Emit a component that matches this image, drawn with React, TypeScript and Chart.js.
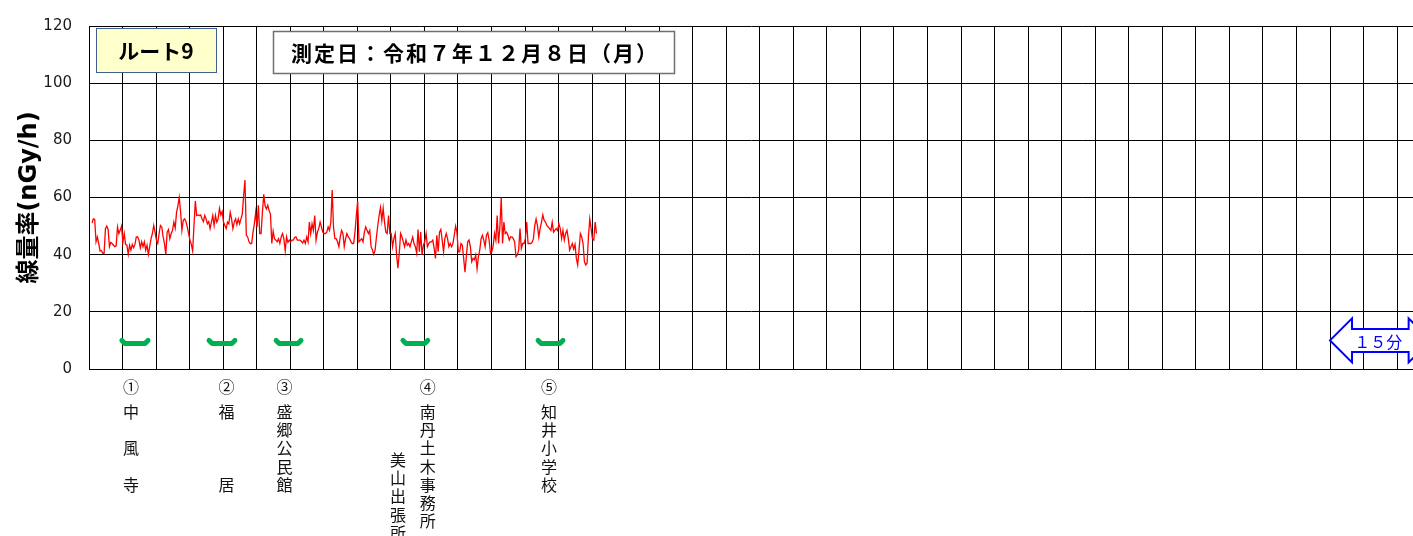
import React, { useEffect, useRef } from 'react';
import { Chart, registerables } from 'chart.js';

Chart.register(...registerables);

// ---- text ----
const ROUTE_LABEL = 'ルート9';
const DATE_LABEL = '測定日：令和７年１２月８日（月）';
const Y_TITLE = '線量率(nGy/h)';
const SCALE_ARROW_TEXT = '１５分';

// ---- axes ----
const Y_MIN = 0;
const Y_MAX = 120;
const Y_STEP = 20;
const X_GRID_STEP_MIN = 5; // one grid column = 5 minutes
const X_VISIBLE_MAX_MIN = 197.37;

// ---- measured dose rate (nGy/h), one sample every 0.2 min ----
const SAMPLE_START_MIN = 0.45;
const SAMPLE_INTERVAL_MIN = 0.2;
const DOSE_RATE = [
  51.1, 52.5, 52.3, 44.5, 46.2, 43.9, 41.3, 41.4, 40.5, 40.5, 49.1, 50.0, 48.8, 42.8, 44.3, 43.9, 43.3, 42.8, 43.1, 49.7,
  47.4, 48.5, 50.0, 44.3, 47.4, 43.6, 43.3, 40.1, 43.3, 41.6, 43.6, 42.4, 43.6, 46.2, 46.2, 45.1, 42.4, 44.5, 42.8, 44.5,
  41.6, 43.3, 40.1, 42.8, 45.6, 47.4, 50.2, 47.9, 45.1, 43.9, 47.4, 50.2, 49.7, 46.2, 43.9, 40.1, 47.9, 48.8, 45.6, 47.4,
  48.5, 51.4, 49.3, 54.8, 57.1, 60.0, 55.0, 48.5, 52.0, 52.5, 51.6, 49.7, 47.4, 45.1, 43.6,
  41.3, 50.2, 58.8, 53.7, 53.9, 53.7, 53.9, 52.5, 51.6, 53.7, 52.5, 50.8, 51.6, 49.1, 51.4, 53.7, 50.2, 53.7, 51.4, 52.5,
  56.2, 53.9, 55.1, 51.4, 50.2, 49.1, 51.4, 50.8, 54.8, 52.5, 49.1, 51.4, 52.5, 50.5, 52.5, 50.8, 52.5, 54.2, 60.6, 66.1,
  46.8, 46.2, 44.5, 43.9, 43.9, 47.9, 50.8, 54.8, 49.7, 57.3, 47.4, 47.4, 54.8, 61.1, 57.1, 56.0, 57.3, 55.4, 54.2, 43.9,
  48.2, 45.6, 45.1, 44.5, 45.6, 43.9, 46.2, 47.4, 45.6, 41.3, 46.2, 44.3, 45.1, 44.5, 45.1, 45.1,
  46.0, 46.2, 45.1, 45.1, 45.1, 44.7, 44.1, 45.1, 43.9, 46.2, 44.5, 51.4, 47.4, 50.8, 48.5, 53.7, 45.1, 47.9, 49.1, 51.4,
  49.7, 47.9, 47.4, 47.4, 47.9, 49.7, 48.5, 51.4, 62.6, 49.7, 45.6, 45.6, 44.5, 42.8, 46.2, 48.5, 47.4, 42.8, 45.6, 47.4,
  46.2, 45.6, 44.5, 43.9, 43.9, 47.9, 53.7, 58.8, 44.5, 45.1, 45.6, 44.5, 47.9, 49.7, 48.5, 47.4, 48.5, 42.8, 41.6, 40.1,
  41.6, 46.2, 50.2, 53.7, 56.5, 52.0, 56.2, 51.4, 47.9, 47.4, 53.7, 47.4, 47.4, 42.8, 45.6, 47.4,
  39.9, 35.3, 40.5, 47.4, 46.2, 44.5, 42.8, 45.1, 43.3, 43.9, 42.8, 44.5, 46.2, 43.9, 42.8, 40.5, 48.8, 41.0, 47.9, 39.9,
  43.3, 44.5, 47.4, 42.8, 43.9, 44.5, 44.5, 45.1, 42.2, 38.7, 46.8, 41.0, 47.9, 48.8, 45.1, 41.0, 45.6, 47.4, 45.6, 42.8,
  43.9, 42.8, 43.9, 46.8, 50.0, 47.9, 41.0, 41.0, 43.9, 43.3, 38.7, 33.9, 39.3, 44.5, 45.1, 42.8, 37.6, 38.7, 38.2, 39.9,
  35.1, 39.3, 41.6, 45.6, 46.8, 45.1, 42.8, 46.8, 47.7, 45.1, 40.5, 41.0, 43.1, 47.4, 45.1, 53.7, 43.9,
  49.7, 60.0, 43.9, 51.4, 47.4, 47.9, 46.8, 45.1, 46.2, 46.2, 45.6, 44.5, 39.3, 39.9, 41.6, 49.1, 42.2, 43.9, 43.9, 45.6,
  51.4, 43.9, 43.9, 43.9, 44.3, 45.6, 50.2, 52.5, 50.2, 46.2, 49.1, 51.4, 53.9, 52.0, 51.4, 50.2, 49.7, 49.1, 48.5, 51.4,
  47.9, 48.5, 49.1, 48.5, 50.8, 49.1, 45.6, 48.5, 45.1, 47.4, 48.5, 45.6, 41.6, 42.8, 43.9, 42.0, 43.6, 38.7, 36.4, 41.6,
  47.4, 46.2, 43.9, 37.6, 36.4, 37.0, 46.2, 52.5, 49.1, 45.6, 45.1, 51.4, 47.4,
];

// ---- stations (minutes from start) ----
const STATION_NUMBERS = ['①', '②', '③', '④', '⑤'];
const STATION_NAMES = ['中　風　寺', '福　　　居', '盛郷公民館', '南丹土木事務所', '知井小学校'];
const STATION_START_MIN = [4.9, 17.9, 27.9, 46.8, 66.95];
const STATION_END_MIN = [8.8, 21.75, 31.6, 50.5, 70.65];
const STATION_LABEL_MIN = [6.26, 20.5, 29.14, 50.48, 68.57];
const STATION_MARK_LEVEL = 8.9;
const STATION_MARK_EDGE = 10.0;
const SUB_LABEL = '美山出張所';
const SUB_LABEL_MIN = 46.06;

// ---- 15 minute scale arrow ----
const SCALE_ARROW_FROM_MIN = 185;
const SCALE_ARROW_TO_MIN = 200;
const SCALE_ARROW_LEVEL = 10;

const CJK = '"Noto Sans CJK JP", "Noto Sans", sans-serif';

const overlayPlugin = {
  id: 'overlay',
  afterDraw(chart: any) {
    const { ctx } = chart;
    const xs = chart.scales.x;
    const ys = chart.scales.y;
    ctx.save();

    // route box
    ctx.fillStyle = '#FFFFCC';
    ctx.fillRect(96, 28, 120, 44);
    ctx.strokeStyle = '#3F5F8F';
    ctx.lineWidth = 1;
    ctx.strokeRect(96.5, 28.5, 120, 44);
    ctx.fillStyle = '#000';
    ctx.font = 'bold 21px ' + CJK;
    ctx.textAlign = 'center';
    ctx.textBaseline = 'middle';
    ctx.fillText(ROUTE_LABEL, 156, 51);

    // date box
    ctx.fillStyle = '#fff';
    ctx.fillRect(273, 31, 401, 42);
    ctx.strokeStyle = '#6F6F6F';
    ctx.lineWidth = 1.5;
    ctx.strokeRect(273.5, 31.5, 401, 42);
    ctx.fillStyle = '#000';
    ctx.font = 'bold 21px ' + CJK;
    try { (ctx as any).letterSpacing = '2px'; } catch (e) {}
    ctx.fillText(DATE_LABEL, 475, 53);
    try { (ctx as any).letterSpacing = '0px'; } catch (e) {}

    // station labels
    ctx.fillStyle = '#111';
    ctx.font = '16px ' + CJK;
    const pitch = 18.2;
    STATION_NAMES.forEach((name, i) => {
      const px = xs.getPixelForValue(STATION_LABEL_MIN[i]);
      ctx.fillText(STATION_NUMBERS[i], px, 387);
      Array.from(name).forEach((ch, j) => {
        if (ch !== '　') ctx.fillText(ch, px, 412 + j * pitch);
      });
    });
    const sx = xs.getPixelForValue(SUB_LABEL_MIN);
    Array.from(SUB_LABEL).forEach((ch, j) => ctx.fillText(ch, sx, 460 + j * pitch));

    // scale arrow
    const xl = xs.getPixelForValue(SCALE_ARROW_FROM_MIN);
    const xr = xs.getPixelForValue(SCALE_ARROW_TO_MIN);
    const yc = ys.getPixelForValue(SCALE_ARROW_LEVEL);
    const headH = 22;
    const bodyH = 11.5;
    const neck = 22;
    ctx.beginPath();
    ctx.moveTo(xl, yc);
    ctx.lineTo(xl + neck, yc - headH);
    ctx.lineTo(xl + neck, yc - bodyH);
    ctx.lineTo(xr - neck, yc - bodyH);
    ctx.lineTo(xr - neck, yc - headH);
    ctx.lineTo(xr, yc);
    ctx.lineTo(xr - neck, yc + headH);
    ctx.lineTo(xr - neck, yc + bodyH);
    ctx.lineTo(xl + neck, yc + bodyH);
    ctx.lineTo(xl + neck, yc + headH);
    ctx.closePath();
    ctx.fillStyle = '#fff';
    ctx.fill();
    ctx.strokeStyle = '#0000FF';
    ctx.lineWidth = 2;
    ctx.lineJoin = 'miter';
    ctx.stroke();
    ctx.fillStyle = '#0000FF';
    ctx.font = '16px ' + CJK;
    ctx.fillText(SCALE_ARROW_TEXT, (xl + xr) / 2 - 2, yc + 2);

    ctx.restore();
  },
};

export default function App() {
  const canvasRef = useRef<HTMLCanvasElement | null>(null);

  useEffect(() => {
    if (!canvasRef.current) return;
    const doseData = DOSE_RATE.map((v, i) => ({ x: SAMPLE_START_MIN + i * SAMPLE_INTERVAL_MIN, y: v }));
    const stationSets = STATION_START_MIN.map((s, i) => {
      const e = STATION_END_MIN[i];
      return {
        data: [
          { x: s, y: STATION_MARK_EDGE },
          { x: s + 0.45, y: STATION_MARK_LEVEL },
          { x: e - 0.45, y: STATION_MARK_LEVEL },
          { x: e, y: STATION_MARK_EDGE },
        ],
        borderColor: '#00B050',
        borderWidth: 5,
        borderCapStyle: 'round' as const,
        borderJoinStyle: 'round' as const,
        pointRadius: 0,
        tension: 0,
      };
    });

    const chart = new Chart(canvasRef.current, {
      type: 'line',
      data: {
        datasets: [
          {
            data: doseData,
            borderColor: '#FF0000',
            borderWidth: 1.3,
            pointRadius: 0,
            tension: 0,
          },
          ...stationSets,
        ] as any,
      },
      options: {
        animation: false,
        responsive: true,
        maintainAspectRatio: false,
        layout: { padding: { top: 20, left: 0, right: 0, bottom: 0 } },
        plugins: { legend: { display: false }, tooltip: { enabled: false } },
        scales: {
          x: {
            type: 'linear',
            min: 0,
            max: X_VISIBLE_MAX_MIN,
            afterFit: (s: any) => { s.height = 167; },
            ticks: { display: false, stepSize: X_GRID_STEP_MIN, includeBounds: false },
            grid: { color: '#000', lineWidth: 1, drawTicks: false },
            border: { color: '#000', width: 1 },
          },
          y: {
            min: Y_MIN,
            max: Y_MAX,
            afterFit: (s: any) => { s.width = 89; },
            ticks: {
              stepSize: Y_STEP,
              padding: 17,
              color: '#1a1a1a',
              font: { family: '"DejaVu Sans", sans-serif', size: 15 },
            },
            grid: { color: '#000', lineWidth: 1, drawTicks: false },
            border: { color: '#000', width: 1 },
            title: {
              display: true,
              text: Y_TITLE,
              color: '#000',
              font: { family: '"DejaVu Sans", "Noto Sans CJK JP", sans-serif', size: 24, weight: 'bold' },
              padding: { top: 15, bottom: 0 },
            },
          },
        },
      } as any,
      plugins: [overlayPlugin],
    });
    return () => chart.destroy();
  }, []);

  return (
    <div style={{ position: 'fixed', left: 0, top: 0, width: 1413, height: 536, background: '#fff' }}>
      <canvas ref={canvasRef} />
    </div>
  );
}
